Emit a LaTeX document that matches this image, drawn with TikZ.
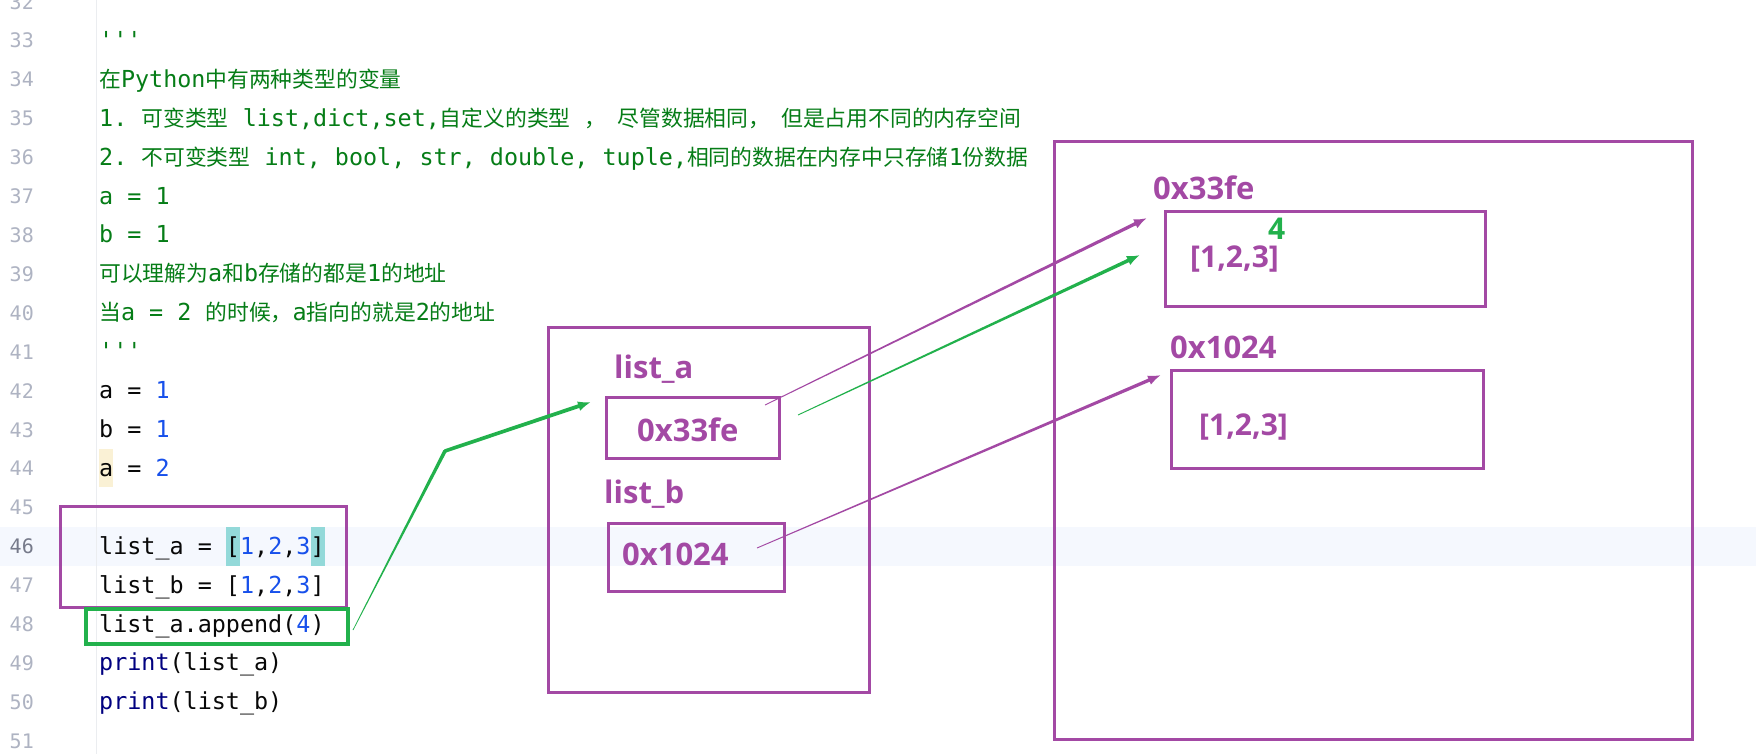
\documentclass[tikz,border=0pt]{standalone}
\usepackage{fontspec}
\setmainfont{Noto Sans}
\setmonofont{DejaVu Sans Mono}
\newfontfamily\cjkf{Noto Sans CJK SC}
\IfFontExistsTF{Open Sans Bold}{\newfontfamily\labf{Open Sans Bold}}{%
  \IfFontExistsTF{Noto Sans Bold}{\newfontfamily\labf{Noto Sans Bold}}{%
    \newfontfamily\labf{Liberation Sans Bold}}}
\usetikzlibrary{calc,arrows.meta}
\definecolor{pp}{HTML}{A349A4}
\definecolor{gg}{HTML}{22B14C}
\definecolor{strg}{HTML}{067D17}
\definecolor{numb}{HTML}{1750EB}
\definecolor{kw}{HTML}{000080}
\definecolor{lncol}{HTML}{AEB3C2}
\definecolor{lncur}{HTML}{767A8A}
\definecolor{curline}{HTML}{F5F8FE}
\definecolor{brk}{HTML}{93D9D9}
\definecolor{yel}{HTML}{FAF1D5}
\definecolor{gutter}{HTML}{EBEDF0}
\definecolor{txt}{HTML}{080808}
\newcommand\C[1]{{\cjkf\fontsize{21.8}{26}\selectfont #1}}
\newcommand\N[1]{\textcolor{numb}{#1}}
\newcommand\cm{\C{，}\hspace{11pt}}
% tapered connector body: from #1 to #2, half widths #3 and #4, colour #5
\newcommand\taper[5]{\fill[#5] ($(#1)!#3!90:(#2)$) -- ($(#2)!#4!-90:(#1)$) -- ($(#2)!#4!90:(#1)$) -- ($(#1)!#3!-90:(#2)$) -- cycle;}
\tikzset{
  code/.style={anchor=base west, inner sep=0pt, font=\ttfamily\fontsize{23.4}{28}\selectfont, text=txt},
  doc/.style={code, text=strg},
  lnumstyle/.style={anchor=base east, inner sep=0pt, font=\ttfamily\fontsize{20}{24}\selectfont},
  pbox/.style={draw=pp, line width=3.4pt, inner sep=0pt, anchor=north west, line join=miter},
  gbox/.style={draw=gg, line width=3.8pt, inner sep=0pt, anchor=north west, line join=miter},
  lab/.style={anchor=base west, inner sep=0pt, text=pp, font=\labf\fontsize{31}{38}\selectfont},
  val/.style={anchor=base west, inner sep=0pt, text=pp, font=\labf\fontsize{30}{38}\selectfont},
  tipP/.style={draw=pp, line width=3pt, -{Latex[length=13pt,width=10pt]}},
  tipG/.style={draw=gg, line width=3pt, -{Latex[length=13pt,width=10pt]}}
}
\begin{document}
\begin{tikzpicture}[x=1pt,y=-1pt]
\useasboundingbox (0,0) rectangle (1756,754);
\clip (0,0) rectangle (1756,754);
\fill[white] (0,0) rectangle (1756,754);
% current line band and highlights
\fill[curline] (0,526.75) rectangle (1756,565.65);
\fill[yel] (99,449.4) rectangle (113.1,487.4);
\fill[brk] (225.9,526.75) rectangle (240,565.65);
\fill[brk] (310.5,526.75) rectangle (324.6,565.65);
% gutter
\draw[gutter, line width=1pt] (96,0) -- (96,754);
% line numbers
\foreach \n in {32,...,51}{
  \ifnum\n=46 \def\lc{lncur}\else\def\lc{lncol}\fi
  \node[lnumstyle, text=\lc] (ln\n) at (34,{48+(\n-33)*38.9}) {\n};
}
% code
\node[doc] (c33) at (99,48.5) {'{}'{}'};
\node[doc] (c34) at (99,87.4) {\C{在}Python\C{中有两种类型的变量}};
\node[doc] (c35) at (99,126.3) {1. \C{可变类型} list,dict,set,\C{自定义的类型} \cm\C{尽管数据相同}\cm\C{但是占用不同的内存空间}};
\node[doc] (c36) at (99,165.2) {2. \C{不可变类型} int, bool, str, double, tuple,\C{相同的数据在内存中只存储}1\C{份数据}};
\node[doc] (c37) at (99,204.1) {a = 1};
\node[doc] (c38) at (99,243.0) {b = 1};
\node[doc] (c39) at (99,281.9) {\C{可以理解为}a\C{和}b\C{存储的都是}1\C{的地址}};
\node[doc] (c40) at (99,320.8) {\C{当}a = 2 \C{的时候，}a\C{指向的就是}2\C{的地址}};
\node[doc] (c41) at (99,359.7) {'{}'{}'};
\node[code] (c42) at (99,398.6) {a = \N{1}};
\node[code] (c43) at (99,437.5) {b = \N{1}};
\node[code] (c44) at (99,476.4) {a = \N{2}};
\node[code] (c46) at (99,554.2) {list\_a = [\N{1},\N{2},\N{3}]};
\node[code] (c47) at (99,593.1) {list\_b = [\N{1},\N{2},\N{3}]};
\node[code] (c48) at (99,632.0) {list\_a.append(\N{4})};
\node[code] (c49) at (99,670.9) {\textcolor{kw}{print}(list\_a)};
\node[code] (c50) at (99,709.8) {\textcolor{kw}{print}(list\_b)};
% annotation boxes
\node[pbox, minimum width=286pt, minimum height=101pt] (codebox) at (59,505) {};
\node[gbox, minimum width=262pt, minimum height=35pt] (appbox) at (84,607) {};
\node[pbox, minimum width=321pt, minimum height=365pt] (stack) at (547,326) {};
\node[pbox, minimum width=173pt, minimum height=61pt] (boxa) at (605,396) {};
\node[pbox, minimum width=176pt, minimum height=68pt] (boxb) at (607,522) {};
\node[pbox, minimum width=638pt, minimum height=598pt] (heap) at (1053,140) {};
\node[pbox, minimum width=320pt, minimum height=95pt] (obj1) at (1164,210) {};
\node[pbox, minimum width=312pt, minimum height=98pt] (obj2) at (1170,369) {};
% labels
\node[lab] (la) at (614,378) {list\_a};
\node[lab] (va) at (637,441) {0x33fe};
\node[lab] (lb) at (604,503) {list\_b};
\node[lab] (vb) at (622,565) {0x1024};
\node[lab] (h1) at (1153,200) {0x33fe};
\node[val] (v1) at (1190,267) {[1,2,3]};
\node[anchor=base west, inner sep=0pt, text=gg, font=\labf\fontsize{30}{38}\selectfont] (four) at (1268,240) {4};
\node[lab] (h2) at (1170,358) {0x1024};
\node[val] (v2) at (1199,435) {[1,2,3]};
% connector points
\coordinate (gs) at (353,630);
\coordinate (gb) at (445,451);
\coordinate (gt) at (591,402);
\coordinate (pa0) at (765,405);
\coordinate (pa1) at (1147,218);
\coordinate (ga0) at (798,415);
\coordinate (ga1) at (1140,255);
\coordinate (pb0) at (757,548);
\coordinate (pb1) at (1161,375);
% green from append to list_a
\taper{gs}{gb}{0.35pt}{1.8pt}{gg}
\fill[gg] (gb) circle (1.8pt);
\taper{gb}{$(gt)!10pt!(gb)$}{1.8pt}{1.9pt}{gg}
\draw[tipG] ($(gt)!14pt!(gb)$) -- (gt);
% list_a -> obj1 (purple)
\taper{pa0}{$(pa1)!10pt!(pa0)$}{0.45pt}{1.7pt}{pp}
\draw[tipP] ($(pa1)!14pt!(pa0)$) -- (pa1);
% list_a after append -> obj1 (green)
\taper{ga0}{$(ga1)!10pt!(ga0)$}{0.45pt}{1.8pt}{gg}
\draw[tipG] ($(ga1)!14pt!(ga0)$) -- (ga1);
% list_b -> obj2
\taper{pb0}{$(pb1)!10pt!(pb0)$}{0.45pt}{1.7pt}{pp}
\draw[tipP] ($(pb1)!14pt!(pb0)$) -- (pb1);
\end{tikzpicture}
\end{document}
